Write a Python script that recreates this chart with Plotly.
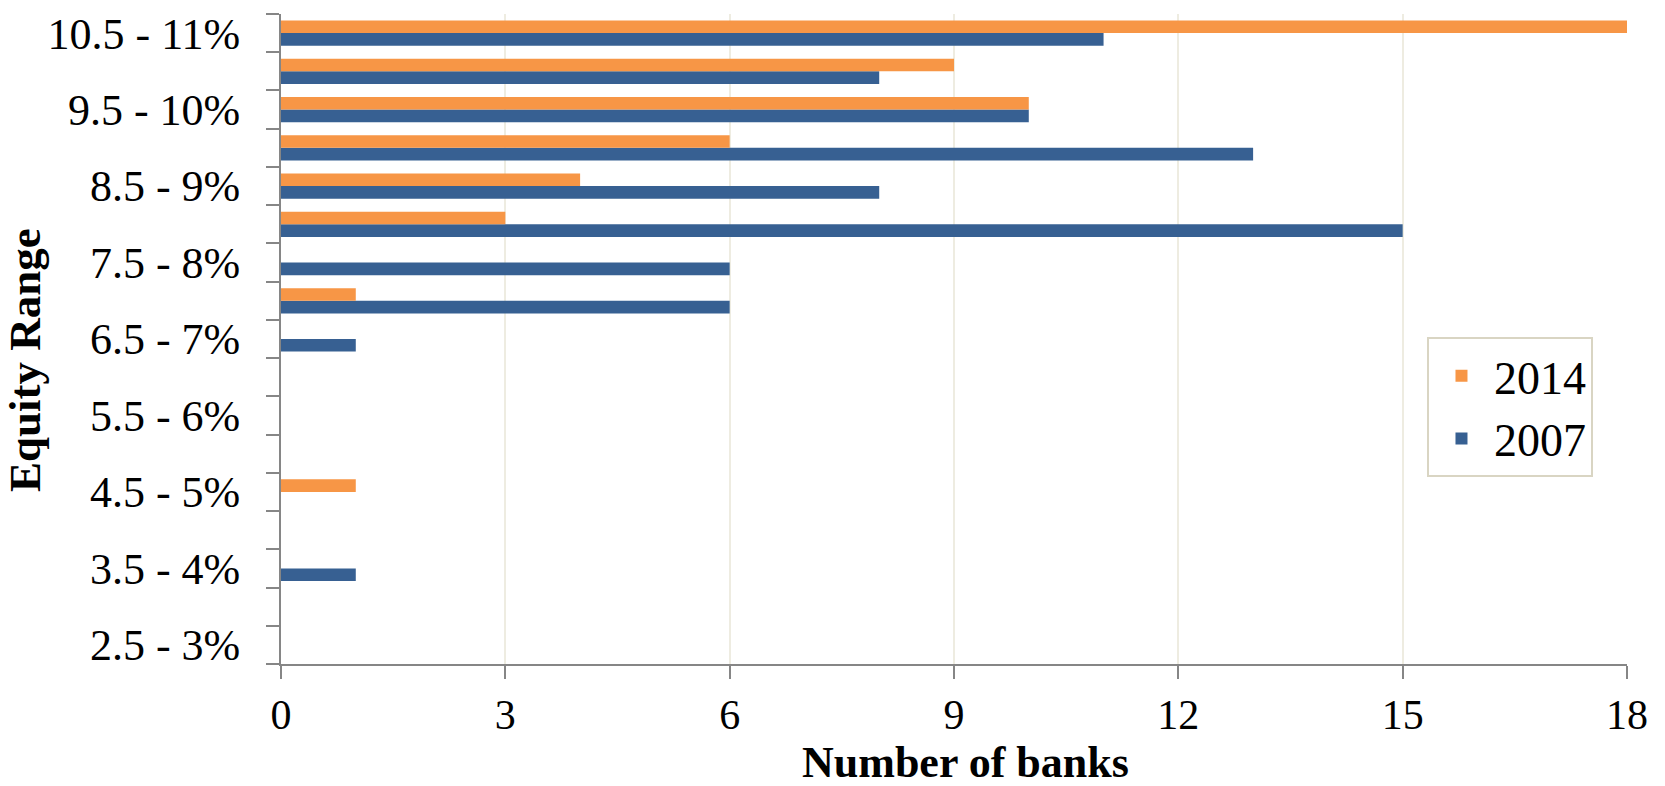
import plotly.graph_objects as go

categories = ["2.5 - 3%", "3 - 3.5%", "3.5 - 4%", "4 - 4.5%", "4.5 - 5%", "5 - 5.5%",
              "5.5 - 6%", "6 - 6.5%", "6.5 - 7%", "7 - 7.5%", "7.5 - 8%", "8 - 8.5%",
              "8.5 - 9%", "9 - 9.5%", "9.5 - 10%", "10 - 10.5%", "10.5 - 11%"]
values_2014 = [0, 0, 0, 0, 1, 0, 0, 0, 0, 1, 0, 3, 4, 6, 10, 9, 18]
values_2007 = [0, 0, 1, 0, 0, 0, 0, 0, 1, 6, 6, 15, 8, 13, 10, 8, 11]
tick_labels = [c if i % 2 == 0 else "" for i, c in enumerate(categories)]
x_ticks = [0, 3, 6, 9, 12, 15, 18]

FONT = "Liberation Serif"
AXIS = "#868686"

fig = go.Figure()
fig.add_trace(go.Bar(y=categories, x=values_2007, orientation="h", name="2007",
                     marker=dict(color="#376092", line=dict(width=0)), legendrank=2))
fig.add_trace(go.Bar(y=categories, x=values_2014, orientation="h", name="2014",
                     marker=dict(color="#F79646", line=dict(width=0)), legendrank=1))

fig.update_layout(
    width=1665, height=786,
    margin=dict(l=281, r=38, t=10, b=122),
    paper_bgcolor="white", plot_bgcolor="white",
    barmode="group", bargap=0.34, bargroupgap=0,
    font=dict(family=FONT, size=42, color="black"),
    showlegend=True,
    legend=dict(x=0.8514, y=0.5027, xanchor="left", yanchor="top",
                bgcolor="white", bordercolor="#D9D5C3", borderwidth=2,
                traceorder="normal",
                font=dict(family=FONT, size=46, color="black"), itemwidth=55),
    xaxis=dict(range=[0, 18], tickvals=x_ticks, showgrid=True, gridcolor="#EEECE1", gridwidth=1.5,
               zeroline=False, showline=True, linecolor=AXIS, linewidth=2,
               ticks="outside", ticklen=13, tickwidth=2, tickcolor=AXIS,
               tickfont=dict(family=FONT, size=42), ticklabelstandoff=0),
    yaxis=dict(type="category", categoryorder="array", categoryarray=categories,
               tickmode="array", tickvals=categories, ticktext=tick_labels,
               tickson="boundaries", showgrid=False, zeroline=False,
               showline=True, linecolor=AXIS, linewidth=2,
               ticks="outside", ticklen=13, tickwidth=2, tickcolor=AXIS,
               tickfont=dict(family=FONT, size=44), ticklabelstandoff=30),
    annotations=[
        dict(text="<b>Number of banks</b>", xref="paper", yref="paper", x=0.5089, y=-0.152,
             xanchor="center", yanchor="middle", showarrow=False, font=dict(family=FONT, size=44)),
        dict(text="<b>Equity Range</b>", xref="paper", yref="paper", x=-0.1902, y=0.4675,
             xanchor="center", yanchor="middle", textangle=-90, showarrow=False,
             font=dict(family=FONT, size=45)),
    ],
)

fig.write_html("out.html")
